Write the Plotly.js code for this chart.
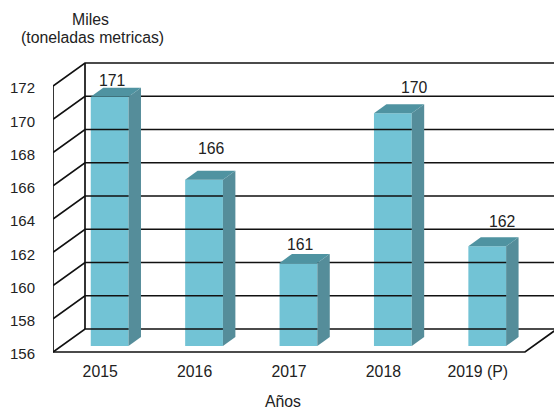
<!DOCTYPE html>
<html>
<head>
<meta charset="utf-8">
<script src="https://cdn.plot.ly/plotly-3.0.1.min.js"></script>
<style>html,body{margin:0;padding:0;background:#fff}</style>
</head>
<body>
<div id="chart" style="width:554px;height:409px"></div>
<script>
const categories = ['2015', '2016', '2017', '2018', '2019 (P)'];
const values = [171, 166, 161, 170, 162];
const tickValues = [156, 158, 160, 162, 164, 166, 168, 170, 172];
const labelShiftX = [3, 7, 2, 22, 15];
const labelShiftY = [-3, 12, -1, 6, 5];

const idx = categories.map((_, i) => i);
// oblique projection, in axis units
const wallDX = 0.339, wallDY = 1.383;
const barFrontDX = 0.1, barFrontDY = 0.36;
const barDX = 0.132, barDY = 0.54, barHalf = 0.2;
const xStart = -0.5, xEnd = 4.5, yBase = 156, yTop = 172;
const ink = '#111111';

const traces = [];
function line(xs, ys, w) {
  traces.push({type:'scatter', mode:'lines', x:xs, y:ys, hoverinfo:'skip', showlegend:false,
    line:{color:ink, width:w||1.7}, cliponaxis:false});
}
// back wall grid and left wall obliques
tickValues.forEach(v => {
  line([xStart, xStart + wallDX, xStart + wallDX + 5.2],
       [v, v + wallDY, v + wallDY]);
});
line([xStart, xStart], [yBase, yTop]);
line([xStart + wallDX, xStart + wallDX], [yBase + wallDY, yTop + wallDY]);
// floor front and right edges
line([xStart, xEnd, xEnd + wallDX], [yBase, yBase, yBase + wallDY]);

// side and top faces
const sideColor = '#558d9a', topColor = '#4f93a1', frontColor = '#72c3d5';
idx.forEach(i => {
  const xl = i + barFrontDX - barHalf, xr = i + barFrontDX + barHalf;
  const yb = yBase + barFrontDY, yt = values[i] + barFrontDY;
  traces.push({type:'scatter', mode:'lines', fill:'toself', fillcolor:sideColor, hoverinfo:'skip',
    showlegend:false, line:{width:0, color:sideColor},
    x:[xr, xr + barDX, xr + barDX, xr, xr], y:[yb, yb + barDY, yt + barDY, yt, yb]});
  traces.push({type:'scatter', mode:'lines', fill:'toself', fillcolor:topColor, hoverinfo:'skip',
    showlegend:false, line:{width:0, color:topColor},
    x:[xl, xr, xr + barDX, xl + barDX, xl], y:[yt, yt, yt + barDY, yt + barDY, yt]});
});
// front faces
traces.push({type:'bar', x:idx.map(i => i + barFrontDX), y:values.map(v => v - yBase),
  base:yBase + barFrontDY, width:barHalf * 2, marker:{color:frontColor, line:{width:0}},
  hoverinfo:'skip', showlegend:false});

const font = {family:'"Liberation Sans", Arial, sans-serif', size:15.8, color:'#222222'};
const yFont = {family:'"Liberation Sans", Arial, sans-serif', size:15, color:'#222222'};
const annotations = idx.map(i => ({
  x:i + barFrontDX, y:values[i] + barFrontDY + barDY, xref:'x', yref:'y',
  text:String(values[i]), showarrow:false, xanchor:'center', yanchor:'bottom',
  xshift:labelShiftX[i], yshift:labelShiftY[i], font:font
}));
const paperX = px => (px - 53) / 501, paperY = py => (355 - py) / 355;
annotations.push({x:paperX(90), y:paperY(19), xref:'paper', yref:'paper', text:'Miles', showarrow:false, xanchor:'center', yanchor:'middle', font:font});
annotations.push({x:paperX(92), y:paperY(38), xref:'paper', yref:'paper', text:'(toneladas metricas)', showarrow:false, xanchor:'center', yanchor:'middle', font:font});
annotations.push({x:paperX(283), y:paperY(401), xref:'paper', yref:'paper', text:'Años', showarrow:false, xanchor:'center', yanchor:'middle', font:font});

const pxY = 16.625;
const layout = {
  width:554, height:409,
  margin:{l:53, r:0, t:0, b:54},
  paper_bgcolor:'#ffffff', plot_bgcolor:'#ffffff',
  showlegend:false, barmode:'overlay',
  xaxis:{range:[xStart, xStart + 501 / 94.4], tickmode:'array', tickvals:idx, ticktext:categories,
    showgrid:false, zeroline:false, showline:false, ticks:'outside', ticklen:2,
    tickcolor:'rgba(0,0,0,0)', tickfont:font},
  yaxis:{range:[yBase - 3 / pxY, yBase + 352 / pxY], tickmode:'array', tickvals:tickValues,
    showgrid:false, zeroline:false, showline:false, ticks:'outside', ticklen:14,
    tickcolor:'rgba(0,0,0,0)', tickfont:yFont, ticklabelshift:2},
  annotations:annotations
};
Plotly.newPlot('chart', traces, layout, {displayModeBar:false, staticPlot:true});
</script>
</body>
</html>
